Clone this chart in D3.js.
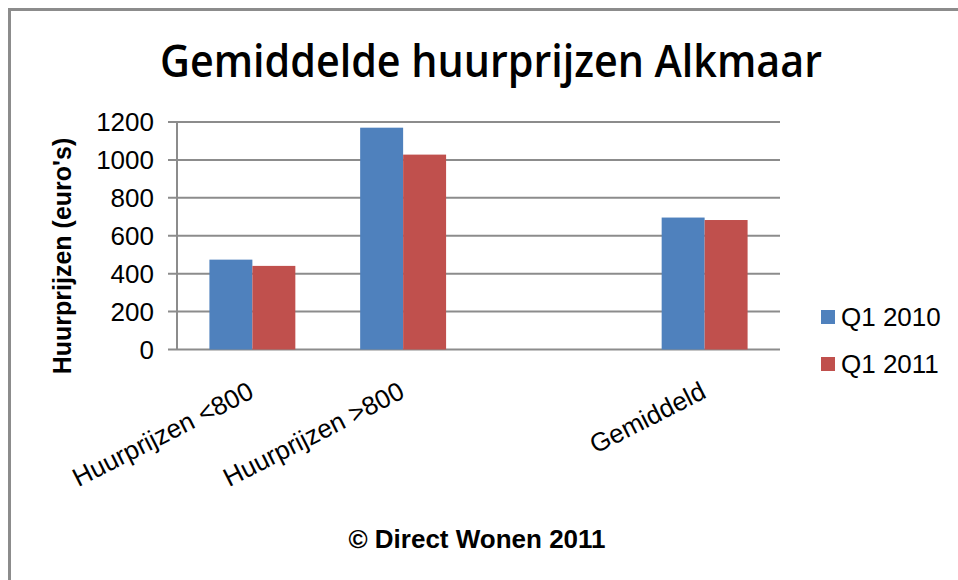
<!DOCTYPE html>
<html lang="nl">
<head>
<meta charset="UTF-8">
<title>Gemiddelde huurprijzen Alkmaar</title>
<script src="https://d3js.org/d3.v7.min.js"></script>
<style>
  body { margin: 0; background: #ffffff; }
  svg { display: block; font-family: "Liberation Sans", Arial, sans-serif; }
</style>
</head>
<body>
<svg id="chart" width="958" height="580"></svg>
<script>
// data
let categories = ['Huurprijzen <800', 'Huurprijzen >800', '', 'Gemiddeld'];
let seriesNames = ['Q1 2010', 'Q1 2011'];
let q2010 = [474, 1170, null, 696];
let q2011 = [441, 1028, null, 683];
let yTicks = [0, 200, 400, 600, 800, 1000, 1200];
let colours = ['#4f81bd', '#c0504d'];

let svg = d3.select('#chart');

// outer frame, cut off at right and bottom like the picture
svg.append('path')
    .attr('d', 'M9.5,580 L9.5,9.5 L958,9.5')
    .style('fill', 'none')
    .style('stroke', '#8c8c8c')
    .style('stroke-width', 3);

let x0 = d3.scaleBand()
    .domain(categories)
    .range([177, 780])
    .paddingInner(0.43)
    .paddingOuter(0.215);

let x1 = d3.scaleBand()
    .domain(seriesNames)
    .range([0, x0.bandwidth()]);

let y = d3.scaleLinear()
    .domain([0, 1200])
    .range([349.5, 122]);

// gridlines
svg.append('g')
    .selectAll('line')
    .data(yTicks)
    .join('line')
    .attr('x1', 168)
    .attr('x2', 780)
    .attr('y1', d => y(d))
    .attr('y2', d => y(d))
    .style('stroke', '#8c8c8c')
    .style('stroke-width', 2);

// y axis line
svg.append('line')
    .attr('x1', 177).attr('x2', 177)
    .attr('y1', y(1200)).attr('y2', y(0))
    .style('stroke', '#8c8c8c')
    .style('stroke-width', 2);

// y tick labels
svg.append('g')
    .selectAll('text')
    .data(yTicks)
    .join('text')
    .attr('x', 154)
    .attr('y', d => y(d))
    .attr('dy', '0.36em')
    .attr('text-anchor', 'end')
    .style('font-size', '26px')
    .style('fill', '#000')
    .text(d => d);

// bars
let rows = categories.map((c, i) => ({ cat: c, vals: [q2010[i], q2011[i]] }));

let groups = svg.append('g')
    .selectAll('g')
    .data(rows)
    .join('g')
    .attr('transform', d => 'translate(' + x0(d.cat) + ',0)');

groups.selectAll('rect')
    .data(d => d.vals.map((v, j) => ({ name: seriesNames[j], value: v, j: j })).filter(e => e.value !== null))
    .join('rect')
    .attr('x', d => x1(d.name))
    .attr('width', x1.bandwidth())
    .attr('y', d => y(d.value))
    .attr('height', d => y(0) - y(d.value))
    .style('fill', d => colours[d.j]);

// category labels, rotated, ending at the band centre
svg.append('g')
    .selectAll('text')
    .data(categories.filter(c => c !== ''))
    .join('text')
    .attr('transform', d => 'translate(' + (x0(d) + x0.bandwidth() / 2 + 3) + ',397) rotate(-27)')
    .attr('text-anchor', 'end')
    .style('font-size', '26px')
    .style('fill', '#000')
    .text(d => d);

// y axis title
svg.append('text')
    .attr('transform', 'translate(71,256) rotate(-90)')
    .attr('text-anchor', 'middle')
    .style('font-size', '25px')
    .style('font-weight', 'bold')
    .text("Huurprijzen (euro's)");

// title
svg.append('text')
    .attr('x', 491)
    .attr('y', 77)
    .attr('text-anchor', 'middle')
    .attr('textLength', 662)
    .attr('lengthAdjust', 'spacingAndGlyphs')
    .style('font-family', '"Open Sans", sans-serif')
    .style('font-size', '45px')
    .style('font-weight', '600')
    .text('Gemiddelde huurprijzen Alkmaar');

// footer
svg.append('text')
    .attr('x', 477)
    .attr('y', 548)
    .attr('text-anchor', 'middle')
    .style('font-size', '26px')
    .style('font-weight', 'bold')
    .text('\u00a9 Direct Wonen 2011');

// legend
let legend = svg.append('g')
    .selectAll('g')
    .data(seriesNames)
    .join('g')
    .attr('transform', (d, i) => 'translate(821,' + (310 + i * 47) + ')');

legend.append('rect')
    .attr('width', 14)
    .attr('height', 14)
    .style('fill', (d, i) => colours[i]);

legend.append('text')
    .attr('x', 20)
    .attr('y', 16)
    .style('font-size', '26px')
    .text(d => d);
</script>
</body>
</html>
